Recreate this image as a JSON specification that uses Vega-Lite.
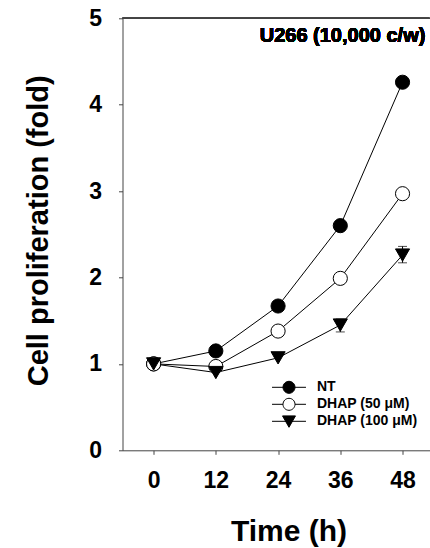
{
  "$schema": "https://vega.github.io/schema/vega-lite/v6.json",
  "autosize": {"type": "none"},
  "padding": {"left": 122.5, "top": 18.3, "right": 0, "bottom": 97.7},
  "width": 307,
  "height": 432,
  "background": "white",
  "config": {
    "view": {"stroke": null},
    "font": "Liberation Sans",
    "axis": {
      "grid": false,
      "domainColor": "#444",
      "tickColor": "#444",
      "tickSize": 4,
      "labelFont": "Liberation Sans",
      "labelFontWeight": "bold",
      "labelColor": "black",
      "titleFont": "Liberation Sans",
      "titleFontWeight": "bold",
      "titleColor": "black"
    }
  },
  "data": {
    "values": [
      {"series": "NT", "time": 0, "value": 1.0},
      {"series": "NT", "time": 12, "value": 1.15},
      {"series": "NT", "time": 24, "value": 1.67},
      {"series": "NT", "time": 36, "value": 2.6},
      {"series": "NT", "time": 48, "value": 4.26},
      {"series": "DHAP (50 μM)", "time": 0, "value": 1.0},
      {"series": "DHAP (50 μM)", "time": 12, "value": 0.97},
      {"series": "DHAP (50 μM)", "time": 24, "value": 1.38},
      {"series": "DHAP (50 μM)", "time": 36, "value": 1.99},
      {"series": "DHAP (50 μM)", "time": 48, "value": 2.97},
      {"series": "DHAP (100 μM)", "time": 0, "value": 1.0},
      {"series": "DHAP (100 μM)", "time": 12, "value": 0.9},
      {"series": "DHAP (100 μM)", "time": 24, "value": 1.07},
      {"series": "DHAP (100 μM)", "time": 36, "value": 1.45, "lo": 1.37, "hi": 1.52},
      {"series": "DHAP (100 μM)", "time": 48, "value": 2.26, "lo": 2.17, "hi": 2.36}
    ]
  },
  "resolve": {"scale": {"shape": "independent", "fill": "independent", "stroke": "independent"}},
  "layer": [
    {
      "mark": {"type": "rule", "color": "#444", "strokeWidth": 1},
      "encoding": {"y": {"datum": 5, "type": "quantitative", "title": "Cell proliferation (fold)"}}
    },
    {
      "transform": [{"filter": "datum.lo != null"}],
      "mark": {"type": "errorbar", "color": "black", "ticks": {"size": 9, "color": "black"}, "rule": {"strokeWidth": 1}},
      "encoding": {
        "x": {"field": "time", "type": "quantitative", "title": "Time (h)"},
        "y": {"field": "lo", "type": "quantitative", "title": "Cell proliferation (fold)"},
        "y2": {"field": "hi"}
      }
    },
    {
      "mark": {"type": "line", "color": "black", "strokeWidth": 1},
      "encoding": {
        "x": {"field": "time", "type": "quantitative", "title": "Time (h)"},
        "y": {"field": "value", "type": "quantitative", "title": "Cell proliferation (fold)"},
        "detail": {"field": "series"}
      }
    },
    {
      "mark": {"type": "point", "filled": true, "stroke": "black", "strokeWidth": 1, "opacity": 1, "size": 200},
      "encoding": {
        "x": {
          "field": "time", "type": "quantitative",
          "title": "Time (h)",
          "scale": {"domain": [-6, 53.2], "nice": false, "zero": false},
          "axis": {
            "values": [0, 12, 24, 36, 48],
            "format": "d",
            "labelFontSize": 23,
            "labelPadding": 15,
            "titleFontSize": 30,
            "titleX": 166,
            "titleY": 90,
            "titleBaseline": "alphabetic",
            "titleAnchor": null
          }
        },
        "y": {
          "field": "value", "type": "quantitative",
          "title": "Cell proliferation (fold)",
          "scale": {"domain": [0, 5], "nice": false},
          "axis": {
            "values": [0, 1, 2, 3, 4, 5],
            "format": "d",
            "labelFontSize": 23,
            "labelPadding": 17,
            "titleFontSize": 29,
            "titleAngle": -90,
            "titleX": -75,
            "titleY": 212,
            "titleAlign": "center",
            "titleBaseline": "alphabetic"
          }
        },
        "shape": {
          "field": "series", "type": "nominal",
          "scale": {"domain": ["NT", "DHAP (50 μM)", "DHAP (100 μM)"], "range": ["circle", "circle", "triangle-down"]},
          "legend": null
        },
        "fill": {
          "field": "series", "type": "nominal",
          "scale": {"domain": ["NT", "DHAP (50 μM)", "DHAP (100 μM)"], "range": ["black", "white", "black"]},
          "legend": null
        }
      }
    },
    {
      "mark": {"type": "point", "filled": true, "strokeWidth": 1, "opacity": 0, "size": 1},
      "encoding": {
        "x": {"field": "time", "type": "quantitative", "title": "Time (h)"},
        "y": {"field": "value", "type": "quantitative", "title": "Cell proliferation (fold)"},
        "shape": {
          "field": "series", "type": "nominal",
          "scale": {"domain": ["NT", "DHAP (50 μM)", "DHAP (100 μM)"], "range": ["M-2.83,0L-1,0M1,0L2.83,0M-1,0A1,1,0,1,1,1,0A1,1,0,1,1,-1,0Z", "M-2.83,0L-1,0M1,0L2.83,0M-1,0A1,1,0,1,1,1,0A1,1,0,1,1,-1,0Z", "M-2.83,0L2.83,0M-1.08,-0.9L1.08,-0.9L0,1.0Z"]},
          "legend": {
            "title": null,
            "orient": "none",
            "legendX": 159.5,
            "legendY": 362,
            "padding": 0,
            "labelFont": "Liberation Sans",
            "labelFontWeight": "bold",
            "labelFontSize": 14,
            "labelColor": "black",
            "labelOffset": 21,
            "rowPadding": 1,
            "symbolSize": 144,
            "symbolOpacity": 1,
            "symbolStrokeWidth": 1
          }
        },
        "fill": {
          "field": "series", "type": "nominal",
          "scale": {"domain": ["NT", "DHAP (50 μM)", "DHAP (100 μM)"], "range": ["black", "white", "black"]},
          "legend": {
            "title": null,
            "orient": "none",
            "legendX": 159.5,
            "legendY": 362,
            "padding": 0,
            "labelFont": "Liberation Sans",
            "labelFontWeight": "bold",
            "labelFontSize": 14,
            "labelColor": "black",
            "labelOffset": 21,
            "rowPadding": 1,
            "symbolSize": 144,
            "symbolOpacity": 1,
            "symbolStrokeWidth": 1
          }
        },
        "stroke": {
          "field": "series", "type": "nominal",
          "scale": {"domain": ["NT", "DHAP (50 μM)", "DHAP (100 μM)"], "range": ["black", "black", "black"]},
          "legend": {
            "title": null,
            "orient": "none",
            "legendX": 159.5,
            "legendY": 362,
            "padding": 0,
            "labelFont": "Liberation Sans",
            "labelFontWeight": "bold",
            "labelFontSize": 14,
            "labelColor": "black",
            "labelOffset": 21,
            "rowPadding": 1,
            "symbolSize": 144,
            "symbolOpacity": 1,
            "symbolStrokeWidth": 1
          }
        }
      }
    },
    {
      "mark": {"type": "text", "text": "U266 (10,000 c/w)", "align": "right", "baseline": "alphabetic", "fontSize": 20, "fontWeight": "bold", "font": "Liberation Sans", "color": "black"},
      "encoding": {
        "x": {"datum": 52.4, "type": "quantitative"},
        "y": {"datum": 4.726, "type": "quantitative"}
      }
    }
  ]
}
